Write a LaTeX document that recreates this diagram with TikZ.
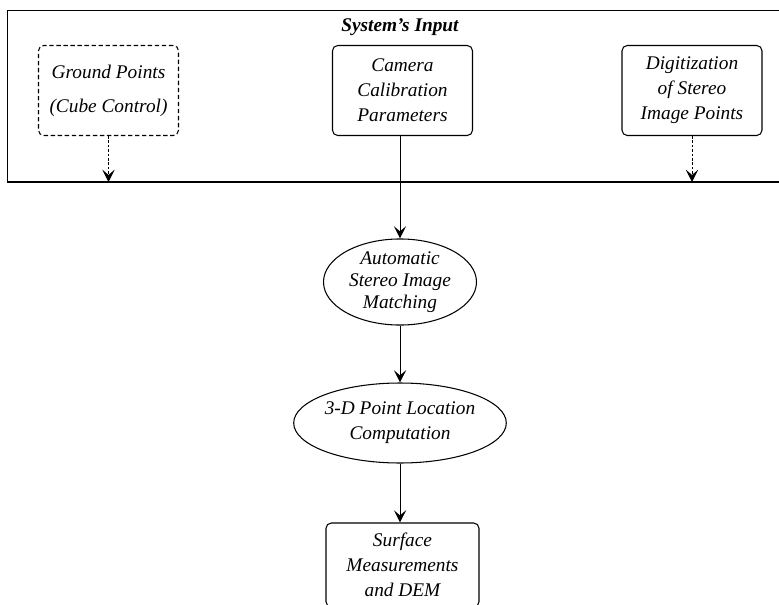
\documentclass[tikz,border=0pt]{standalone}
\usepackage{fontspec}
\setmainfont{Liberation Serif}
\usetikzlibrary{shapes.geometric, arrows.meta, positioning, calc}

\begin{document}
\begin{tikzpicture}[
  font=\fontsize{11}{14.2}\selectfont\itshape,
  riquadro/.style={draw=black, line width=0.6pt, rounded corners=3pt, align=center,
                   minimum width=2.8cm, minimum height=1.8cm, inner sep=2pt},
  tratteggio/.style={riquadro, dash pattern=on 2.5pt off 1.5pt},
  ovale/.style={draw=black, line width=0.6pt, ellipse, align=center, inner sep=0pt},
  freccia/.style={draw=black, line width=0.5pt, -{Stealth[length=7pt,width=7pt,inset=3pt]}},
  puntini/.style={freccia, dash pattern=on 1.5pt off 1pt}
]
\useasboundingbox (0,0) rectangle (15.58,12.08);

% cornice degli ingressi
\draw[line width=0.5pt] (15.8,11.88) -- (0.14,11.88) -- (0.14,8.44);
\draw[line width=1pt] (0.14,8.44) -- (15.8,8.44);
\coordinate (fondo) at (0.14,8.44);
\node[font=\fontsize{11}{13}\selectfont\bfseries\itshape] (titolo) at (8.0,11.54) {System's Input};

% ingressi
\node[tratteggio] (G) at (2.17,10.27) {Ground Points\\[5pt] (Cube Control)};
\node[riquadro] (C) at (8.05,10.27) {Camera\\ Calibration\\ Parameters};
\node[riquadro] (D) at (13.84,10.27) {Digitization\\ of Stereo\\ Image Points};

% elaborazione
\node[ovale, minimum width=3.06cm, minimum height=1.7cm,
      font=\fontsize{11}{12.5}\selectfont\itshape] (A) at (8.0,6.44)
  {Automatic\\ Stereo Image\\ Matching};
\node[ovale, minimum width=4.06cm, minimum height=1.6cm] (P) at (8.0,3.62)
  {3-D Point Location\\ Computation};
\node[riquadro, minimum width=3.06cm, minimum height=1.68cm] (S) at (8.05,0.78)
  {Surface\\ Measurements\\ and DEM};

\draw[puntini] (G.south) -- (G.south |- fondo);
\draw[puntini] (D.south) -- (D.south |- fondo);
\draw[freccia] (C.south -| A.north) -- (A.north);
\draw[freccia] (A) -- (P);
\draw[freccia] (P.south) -- (P.south |- S.north);

\end{tikzpicture}
\end{document}
